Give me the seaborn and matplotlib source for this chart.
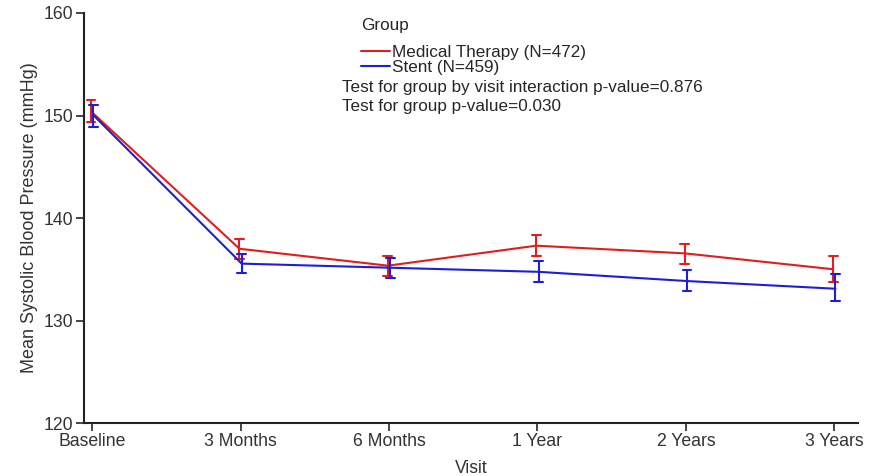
import numpy as np
import pandas as pd
import seaborn as sns
import matplotlib.pyplot as plt
from matplotlib.colors import to_hex

visits = ['Baseline', '3 Months', '6 Months', '1 Year', '2 Years', '3 Years']

# means and lower / upper ends of the error bars
med_mean = [150.4, 137.0, 135.35, 137.3, 136.55, 135.0]
med_low = [149.4, 136.0, 134.3, 136.3, 135.5, 133.8]
med_high = [151.5, 138.0, 136.3, 138.3, 137.5, 136.3]

stent_mean = [150.05, 135.55, 135.15, 134.75, 133.85, 133.1]
stent_low = [148.9, 134.6, 134.1, 133.75, 132.85, 131.9]
stent_high = [151.0, 136.5, 136.1, 135.8, 134.9, 134.5]

groups = ['Medical Therapy (N=472)', 'Stent (N=459)']
colors = ['#e01e1e', '#1e1ed8']
bar_colors = {'#e01e1e': '#c02626', '#1e1ed8': '#4428b4'}  # error bars a shade darker

# long table: low / mean / high per visit, median gives the mean and pi 100 the bar ends
rows = []
for g, m, lo, hi in [(groups[0], med_mean, med_low, med_high),
                     (groups[1], stent_mean, stent_low, stent_high)]:
    for v, a, b, c in zip(visits, lo, m, hi):
        for val in (a, b, c):
            rows.append({'Visit': v, 'Group': g, 'value': val})
df = pd.DataFrame(rows)

sns.set_style('ticks')
plt.rcParams['font.family'] = ['Liberation Sans', 'DejaVu Sans']

fig = plt.figure(figsize=(8.81, 4.76), dpi=100)
ax = fig.add_axes([0.0953, 0.1113, 0.8787, 0.8614])

sns.pointplot(data=df, x='Visit', y='value', hue='Group', order=visits, hue_order=groups,
              palette=colors, estimator='median', errorbar=('pi', 100), capsize=0.06,
              markers='', linewidth=1.5, dodge=0.015, err_kws={'linewidth': 1.5}, ax=ax)

# recolour error bars and caps (short 2-point lines)
for ln in ax.lines:
    if len(ln.get_xdata()) == 2:
        c = to_hex(ln.get_color())
        if c in bar_colors:
            ln.set_color(bar_colors[c])

ax.set_ylim(120, 160)
ax.set_yticks([120, 130, 140, 150, 160])
ax.set_xlim(-0.055, 5.16)
ax.set_xlabel('Visit', fontsize=12.7, color='#333333', labelpad=7)
ax.set_ylabel('Mean Systolic Blood Pressure (mmHg)', fontsize=13, color='#333333', labelpad=4)
ax.tick_params(axis='both', labelsize=12.7, labelcolor='#333333', length=6, width=1.2,
               direction='out', pad=1.5)
sns.despine(ax=ax)
for s in ['left', 'bottom']:
    ax.spines[s].set_linewidth(1.5)
    ax.spines[s].set_color('#222222')

ax.legend(loc='upper left', bbox_to_anchor=(0.3579, 0.922), frameon=False,
          fontsize=12.3, handlelength=1.7, handletextpad=0.1, labelspacing=0.0,
          borderpad=0, borderaxespad=0)

ax.text(0.3579, 0.9707, 'Group', transform=ax.transAxes, fontsize=12.3, va='center')
ax.text(0.3333, 0.8188, 'Test for group by visit interaction p-value=0.876', transform=ax.transAxes,
        fontsize=12.3, va='center')
ax.text(0.3333, 0.7715, 'Test for group p-value=0.030', transform=ax.transAxes,
        fontsize=12.3, va='center')

plt.savefig('out.png', dpi=100)
